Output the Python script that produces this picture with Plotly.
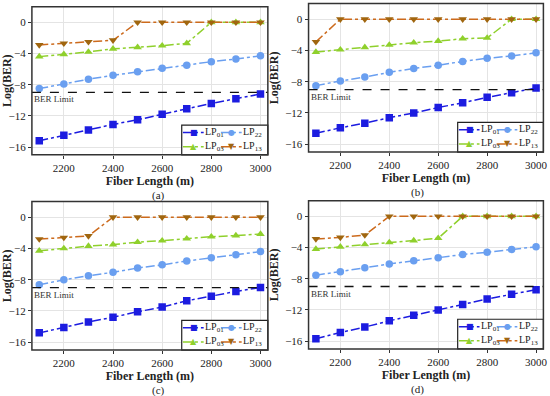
import plotly.graph_objects as go
from plotly.subplots import make_subplots

length = [2100, 2200, 2300, 2400, 2500, 2600, 2700, 2800, 2900, 3000]

# panel (a)
a_lp01 = [-15.2, -14.5, -13.8, -13.1, -12.5, -11.8, -11.1, -10.4, -9.8, -9.2]
a_lp22 = [-8.5, -7.9, -7.3, -6.8, -6.35, -5.9, -5.5, -5.05, -4.7, -4.3]
a_lp03 = [-4.4, -4.1, -3.8, -3.4, -3.2, -3.0, -2.7, 0, 0, 0]
a_lp13 = [-2.9, -2.7, -2.5, -2.3, 0, 0, 0, 0, 0, 0]

# panel (b)
b_lp01 = [-14.6, -13.9, -13.3, -12.6, -12.0, -11.3, -10.7, -10.0, -9.4, -8.8]
b_lp22 = [-8.5, -7.9, -7.4, -6.8, -6.3, -5.9, -5.4, -5.0, -4.7, -4.3]
b_lp03 = [-4.2, -3.9, -3.6, -3.3, -3.0, -2.8, -2.5, -2.4, 0, 0]
b_lp13 = [-2.9, 0, 0, 0, 0, 0, 0, 0, 0, 0]

# panel (c)
c_lp01 = [-14.8, -14.1, -13.4, -12.8, -12.1, -11.5, -10.7, -10.1, -9.5, -9.0]
c_lp22 = [-8.65, -8.0, -7.5, -7.05, -6.5, -6.1, -5.6, -5.2, -4.8, -4.4]
c_lp03 = [-4.3, -4.0, -3.7, -3.5, -3.2, -3.0, -2.75, -2.5, -2.35, -2.15]
c_lp13 = [-2.8, -2.6, -2.4, 0, 0, 0, 0, 0, 0, 0]

# panel (d)
d_lp01 = [-15.7, -14.9, -14.2, -13.4, -12.7, -12.0, -11.3, -10.6, -10.0, -9.4]
d_lp22 = [-7.55, -7.1, -6.6, -6.1, -5.7, -5.3, -4.9, -4.6, -4.25, -3.9]
d_lp03 = [-4.2, -3.9, -3.6, -3.35, -3.1, -2.8, 0, 0, 0, 0]
d_lp13 = [-2.9, -2.7, -2.4, 0, 0, 0, 0, 0, 0, 0]

ber_limit = -9
panel_labels = ["(a)", "(b)", "(c)", "(d)"]
x_ticks = [2200, 2400, 2600, 2800, 3000]
y_ticks = [0, -4, -8, -12, -16]

panels = [
    [a_lp01, a_lp22, a_lp03, a_lp13],
    [b_lp01, b_lp22, b_lp03, b_lp13],
    [c_lp01, c_lp22, c_lp03, c_lp13],
    [d_lp01, d_lp22, d_lp03, d_lp13],
]

names = ["LP<sub>01</sub>", "LP<sub>22</sub>", "LP<sub>03</sub>", "LP<sub>13</sub>"]
line_cols = ["#1c1ce0", "#6a9ff0", "#8fd02c", "#cc6a1c"]
mark_cols = ["#1c1ce0", "#6a9ff0", "#8fd02c", "#a0660f"]
symbols = ["square", "circle", "triangle-up", "triangle-down"]
glyphs = ["\u25a0", "\u25cf", "\u25b2", "\u25bc"]

FONT = "Liberation Serif"

# plot area positions (paper fractions)
x_dom = [[0.058, 0.487], [0.561, 0.988], [0.058, 0.487], [0.561, 0.988]]
y_dom = [[0.609, 0.983], [0.616, 0.991], [0.116, 0.491], [0.119, 0.493]]

# legend key layout inside each panel (axis-domain fractions)
key_col_x = [0.636, 0.797]
key_row_y = [0.15, 0.055]

fig = make_subplots(rows=2, cols=2)

for p, series in enumerate(panels):
    row, col = p // 2 + 1, p % 2 + 1
    for k, vals in enumerate(series):
        fig.add_trace(go.Scatter(
            x=length, y=vals, name=names[k], mode="lines+markers",
            line=dict(color=line_cols[k], width=1.5, dash="dashdot"),
            marker=dict(symbol=symbols[k], size=7.5, color=mark_cols[k]),
            showlegend=False,
        ), row=row, col=col)

layout_upd = {}
for p in range(4):
    sfx = "" if p == 0 else str(p + 1)
    layout_upd["xaxis" + sfx] = dict(
        domain=x_dom[p], range=[2070, 3030], tickvals=x_ticks, automargin=False,
        showline=False, ticks="outside", ticklen=3, tickcolor="#333",
        showgrid=True, gridcolor="#e4e4e4", zeroline=False,
        tickfont=dict(family=FONT, size=11, color="#222"),
        title=dict(text="<b>Fiber Length (m)</b>", standoff=1,
                   font=dict(family=FONT, size=12, color="#222")),
    )
    layout_upd["yaxis" + sfx] = dict(
        domain=y_dom[p], range=[-17, 2], tickvals=y_ticks, automargin=False,
        showline=False, ticks="outside", ticklen=3, tickcolor="#333",
        showgrid=True, gridcolor="#e4e4e4", zeroline=False,
        tickfont=dict(family=FONT, size=11, color="#222"),
        title=dict(text="<b>Log(BER)</b>", standoff=3,
                   font=dict(family=FONT, size=12, color="#222")),
    )

    xr = "x" + sfx
    yr = "y" + sfx
    # BER limit line and label
    fig.add_shape(type="line", xref=xr + " domain", yref=yr, x0=0, x1=1,
                  y0=ber_limit, y1=ber_limit, line=dict(color="#111", width=1.3, dash="dash"))
    fig.add_annotation(xref=xr, yref=yr, x=2072, y=ber_limit, text="BER Limit",
                       showarrow=False, xanchor="left", yanchor="top",
                       font=dict(family=FONT, size=9, color="#333"))

    # legend box
    fig.add_shape(type="rect", xref=xr + " domain", yref=yr + " domain",
                  x0=0.635, x1=1, y0=0, y1=0.2, fillcolor="white",
                  line=dict(color="#222", width=1.2), layer="above")
    for k in range(4):
        cx = key_col_x[k % 2]
        cy = key_row_y[k // 2]
        fig.add_shape(type="line", xref=xr + " domain", yref=yr + " domain",
                      x0=cx + 0.004, x1=cx + 0.092, y0=cy, y1=cy, layer="above",
                      line=dict(color=line_cols[k], width=1.5, dash="dashdot"))
        fig.add_annotation(xref=xr + " domain", yref=yr + " domain",
                           x=cx + 0.05, y=cy, text=glyphs[k], showarrow=False,
                           xanchor="center", yanchor="middle",
                           font=dict(family="DejaVu Sans", size=8, color=mark_cols[k]))
        fig.add_annotation(xref=xr + " domain", yref=yr + " domain",
                           x=cx + 0.094, y=cy, text=names[k], showarrow=False,
                           xanchor="left", yanchor="middle", borderpad=0,
                           font=dict(family=FONT, size=10, color="#222"))

    # frame around the plot area (paper refs so it is not clipped)
    fig.add_shape(type="rect", xref="paper", yref="paper",
                  x0=x_dom[p][0], x1=x_dom[p][1], y0=y_dom[p][0], y1=y_dom[p][1],
                  layer="above", line=dict(color="#333", width=1.5))

    # panel caption
    xc = (x_dom[p][0] + x_dom[p][1]) / 2
    fig.add_annotation(xref="paper", yref="paper", x=xc,
                       y=y_dom[p][0] - 0.081, text=panel_labels[p],
                       showarrow=False, yanchor="top",
                       font=dict(family=FONT, size=11, color="#222"))

fig.update_layout(**layout_upd)
fig.update_layout(
    width=550, height=396,
    margin=dict(l=0, r=0, t=0, b=0),
    paper_bgcolor="white", plot_bgcolor="white",
    showlegend=False,
)

# the page body has a default 8px margin; drop it so the figure sits at 0,0
fig.write_html("out.html", config={"displayModeBar": False},
               post_script="document.body.style.margin='0';")
